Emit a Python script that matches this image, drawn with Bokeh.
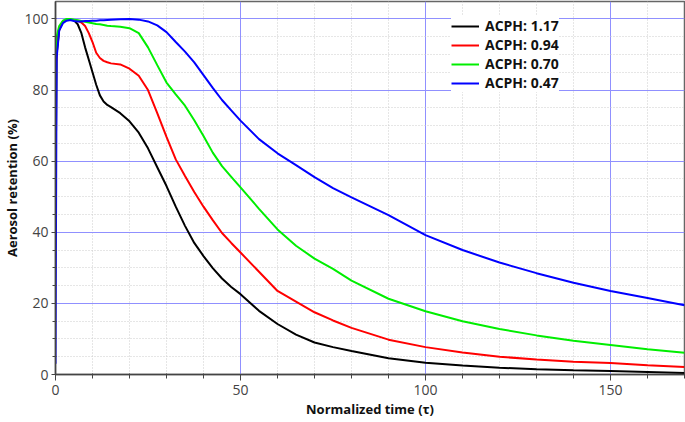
from bokeh.plotting import figure
from bokeh.models import Range1d, Legend, LegendItem, FixedTicker
from bokeh.embed import file_html
from bokeh.resources import INLINE

# Normalized time (tau)
time = [0, 0.3, 1, 2, 3, 4, 5, 6, 7, 8, 9, 10, 11, 12, 13, 14, 15, 17.5, 20, 22.5,
        25, 27.5, 30, 32.5, 35, 37.5, 40, 42.5, 45, 47.5, 50, 55, 60, 65, 70, 75,
        80, 90, 100, 110, 120, 130, 140, 150, 160, 170]

acph_117 = [48, 90, 97, 99.3, 99.8, 99.8, 99.6, 98.5, 96, 92, 88.5, 85, 81.5, 78.5,
            76.8, 75.8, 75.2, 73.5, 71.2, 68, 63.6, 58.3, 53, 47.2, 41.8, 37, 33.3,
            29.9, 27, 24.6, 22.6, 17.9, 14.2, 11.2, 9.0, 7.7, 6.6, 4.6, 3.3, 2.5,
            1.9, 1.5, 1.2, 1.0, 0.7, 0.4]
acph_094 = [83, 92, 97, 99.3, 99.8, 99.8, 99.7, 99.5, 99, 98, 96, 93.5, 90.5, 89,
            88.2, 87.8, 87.5, 87.2, 86, 84, 80, 73.5, 66.8, 60.5, 55.8, 51.3, 47.2,
            43.4, 39.8, 37, 34.3, 28.9, 23.5, 20.5, 17.5, 15.2, 13.1, 9.8, 7.7, 6.2,
            5.0, 4.2, 3.6, 3.2, 2.6, 2.1]
acph_070 = [90, 95, 98, 99.5, 100, 100, 99.8, 99.6, 99.4, 99.2, 99, 98.8, 98.6, 98.5,
            98.3, 98.1, 98, 97.8, 97.4, 96, 92, 87, 82.1, 78.8, 75.6, 71.5, 67.1,
            62.4, 58.6, 55.6, 52.6, 46.6, 40.8, 36.2, 32.6, 29.7, 26.4, 21.3, 17.8,
            15, 12.8, 11, 9.5, 8.3, 7.1, 6.1]
acph_047 = [3, 89, 96.7, 98.8, 99.5, 99.7, 99.4, 99.3, 99.3, 99.4, 99.4, 99.5, 99.5,
            99.6, 99.6, 99.7, 99.8, 99.9, 100, 99.8, 99.3, 98.2, 96.3, 93.5, 90.8,
            87.8, 84.2, 80.6, 77.2, 74.3, 71.4, 66.2, 62.2, 58.9, 55.5, 52.4, 49.8,
            44.8, 39.2, 35, 31.5, 28.5, 25.8, 23.5, 21.5, 19.5]

series_labels = ["ACPH: 1.17", "ACPH: 0.94", "ACPH: 0.70", "ACPH: 0.47"]
series_values = [acph_117, acph_094, acph_070, acph_047]
series_colors = ["#000000", "#ff0000", "#00ee00", "#0000ff"]

x_ticks = [0, 50, 100, 150]
x_minor = [10, 20, 30, 40, 60, 70, 80, 90, 110, 120, 130, 140, 160, 170]
y_ticks = [0, 20, 40, 60, 80, 100]
y_minor = [5, 10, 15, 25, 30, 35, 45, 50, 55, 65, 70, 75, 85, 90, 95, 100]

x_title = "Normalized time (τ)"
y_title = "Aerosol retention (%)"

FONT = "Open Sans"

p = figure(width=685, height=422, output_backend="svg", toolbar_location=None,
           x_range=Range1d(0, 170), y_range=Range1d(0, 104.9),
           min_border_left=55, min_border_right=1, min_border_top=1,
           min_border_bottom=48)

p.background_fill_color = "white"
p.border_fill_color = "white"
p.outline_line_color = "#666666"
p.outline_line_width = 1.5

items = []
for lab, vals, col in zip(series_labels, series_values, series_colors):
    r = p.line(time, vals, line_color=col, line_width=2)
    items.append(LegendItem(label=lab, renderers=[r]))

legend = Legend(items=items, location=(396, 282), padding=5, margin=0,
                spacing=0, glyph_width=28, glyph_height=18, label_height=18,
                label_standoff=6, label_text_font=FONT, label_text_font_style="bold",
                label_text_font_size="14px", label_text_color="#111111",
                background_fill_color="white", background_fill_alpha=1.0,
                border_line_color=None)
p.add_layout(legend, "center")

for ax in (p.xaxis[0], p.yaxis[0]):
    ax.axis_line_color = "#444444"
    ax.axis_line_width = 1.5
    ax.major_tick_line_color = "#444444"
    ax.minor_tick_line_color = "#444444"
    ax.major_tick_in = 0
    ax.minor_tick_in = 1
    ax.major_label_text_font = FONT
    ax.major_label_text_font_size = "14px"
    ax.major_label_text_color = "#444444"
    ax.axis_label_text_font = FONT
    ax.axis_label_text_font_style = "bold"
    ax.axis_label_text_font_size = "13px"
    ax.axis_label_text_color = "#111111"

p.xaxis.major_tick_out = 6
p.xaxis.minor_tick_out = 4
p.yaxis.major_tick_out = 4
p.yaxis.minor_tick_out = 3

xt = FixedTicker(ticks=x_ticks, minor_ticks=x_minor)
yt = FixedTicker(ticks=y_ticks, minor_ticks=y_minor)
p.xaxis[0].ticker = xt
p.yaxis[0].ticker = yt
p.xgrid[0].ticker = xt
p.ygrid[0].ticker = yt
p.xaxis.axis_label = x_title
p.yaxis.axis_label = y_title
p.xaxis.major_label_standoff = 4
p.xaxis.axis_label_standoff = 2
p.yaxis.major_label_standoff = 3
p.yaxis.axis_label_standoff = 0

for g in (p.xgrid[0], p.ygrid[0]):
    g.grid_line_color = "#9090ff"
    g.grid_line_width = 1
    g.minor_grid_line_color = "#cccccc"
    g.minor_grid_line_dash = "1 2"
    g.minor_grid_line_width = 1

open("out.html", "w").write(file_html(p, INLINE))
